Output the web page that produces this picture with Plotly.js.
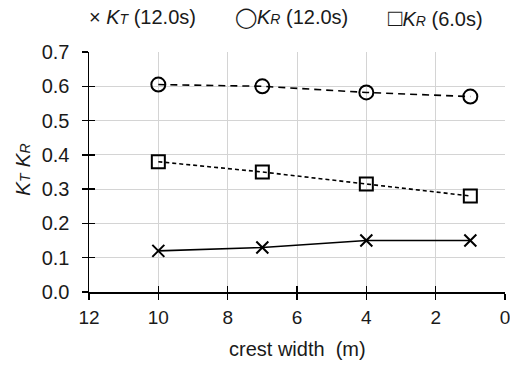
<!DOCTYPE html>
<html><head><meta charset="utf-8">
<script src="https://cdn.plot.ly/plotly-3.0.1.min.js"></script>
<style>body{margin:0;background:#fff}#c{width:510px;height:367px}</style>
</head><body><div id="c"></div>
<script>
const crestWidth = [10, 7, 4, 1];
const kt12 = [0.12, 0.13, 0.15, 0.15];
const kr12 = [0.605, 0.60, 0.582, 0.57];
const kr6 = [0.38, 0.35, 0.315, 0.28];
const xTicks = [12, 10, 8, 6, 4, 2, 0];
const yTicks = [0, 0.1, 0.2, 0.3, 0.4, 0.5, 0.6, 0.7];
const yTickText = yTicks.map(v => v.toFixed(1));

const F = '"Liberation Sans", Arial, sans-serif';
const TC = '#1a1a1a';
const traces = [
  {x: crestWidth, y: kr12, mode: 'lines+markers', line: {color: '#000', width: 1.6, dash: '7px,5px'},
   marker: {symbol: 'circle-open', size: 14, color: '#000', line: {width: 2, color: '#000'}}},
  {x: crestWidth, y: kr6, mode: 'lines+markers', line: {color: '#000', width: 1.6, dash: '4px,3px'},
   marker: {symbol: 'square-open', size: 13, color: '#000', line: {width: 2, color: '#000'}}},
  {x: crestWidth, y: kt12, mode: 'lines+markers', line: {color: '#000', width: 1.6},
   marker: {symbol: 'x-thin-open', size: 12, color: '#000', line: {width: 2, color: '#000'}}},
  {x: crestWidth, y: kt12, xaxis: 'x2', yaxis: 'y2', mode: 'none', hoverinfo: 'skip'}
];
const sub = s => '<span style="font-size:14px">' + s + '</span>';
const big = (s, n) => '<span style="font-size:' + n + 'px">' + s + '</span>';
const W = 416, H = 240;
const px = p => (p - 89) / W;
const py = p => (292 - p) / H;
const layout = {
  width: 510, height: 367,
  margin: {l: 89, r: 5, t: 52, b: 75},
  paper_bgcolor: '#fff', plot_bgcolor: '#fff',
  showlegend: false,
  font: {family: F, size: 19, color: TC},
  xaxis: {range: [12, 0], tickvals: xTicks, ticktext: xTicks.map(String),
    showgrid: true, gridcolor: '#d4d4d4', gridwidth: 1, zeroline: false,
    showline: true, linecolor: '#000', linewidth: 1.5, ticklabeloverflow: 'allow',
    ticks: 'outside', ticklen: 6, tickwidth: 1.5, tickcolor: '#000', ticklabelstandoff: 2,
    tickfont: {family: F, size: 19, color: TC}},
  yaxis: {range: [0, 0.7], tickvals: yTicks, ticktext: yTickText,
    showgrid: true, gridcolor: '#d4d4d4', gridwidth: 1, zeroline: false,
    showline: true, linecolor: '#000', linewidth: 1.5,
    ticks: 'outside', ticklen: 6, tickwidth: 1.5, tickcolor: '#000', ticklabelstandoff: 8,
    tickfont: {family: F, size: 20, color: TC}},
  xaxis2: {overlaying: 'x', range: [12, 0], tickvals: xTicks, showticklabels: false, showgrid: false,
    zeroline: false, ticks: 'inside', ticklen: 6, tickwidth: 1.5, tickcolor: '#000', side: 'bottom'},
  yaxis2: {overlaying: 'y', range: [0, 0.7], tickvals: yTicks, showticklabels: false, showgrid: false,
    zeroline: false, ticks: 'inside', ticklen: 6, tickwidth: 1.5, tickcolor: '#000', side: 'left'},
  annotations: [
    {xref: 'paper', yref: 'paper', x: px(22), y: py(170), textangle: -90, showarrow: false,
     xanchor: 'center', yanchor: 'middle',
     text: '<i>K' + sub('T') + ' K' + sub('R') + '</i>', font: {family: F, size: 21, color: TC}},
    {xref: 'paper', yref: 'paper', x: px(297), y: py(349), showarrow: false,
     xanchor: 'center', yanchor: 'middle',
     text: 'crest width  (m)', font: {family: F, size: 20, color: TC}},
    {xref: 'paper', yref: 'paper', x: px(87), y: py(17), xanchor: 'left', yanchor: 'middle', showarrow: false,
     text: '× <i>K' + sub('T') + '</i> (12.0s)', font: {family: F, size: 20, color: TC}},
    {xref: 'paper', yref: 'paper', x: px(233), y: py(17), xanchor: 'left', yanchor: 'middle', showarrow: false,
     text: big('◯', 20) + '<i>K' + sub('R') + '</i> (12.0s)', font: {family: F, size: 20, color: TC}},
    {xref: 'paper', yref: 'paper', x: px(386), y: py(17), xanchor: 'left', yanchor: 'middle', showarrow: false,
     text: big('□', 24) + '<i>K' + sub('R') + '</i> (6.0s)', font: {family: F, size: 20, color: TC}}
  ]
};
Plotly.newPlot('c', traces, layout, {staticPlot: true, displayModeBar: false});
</script></body></html>
